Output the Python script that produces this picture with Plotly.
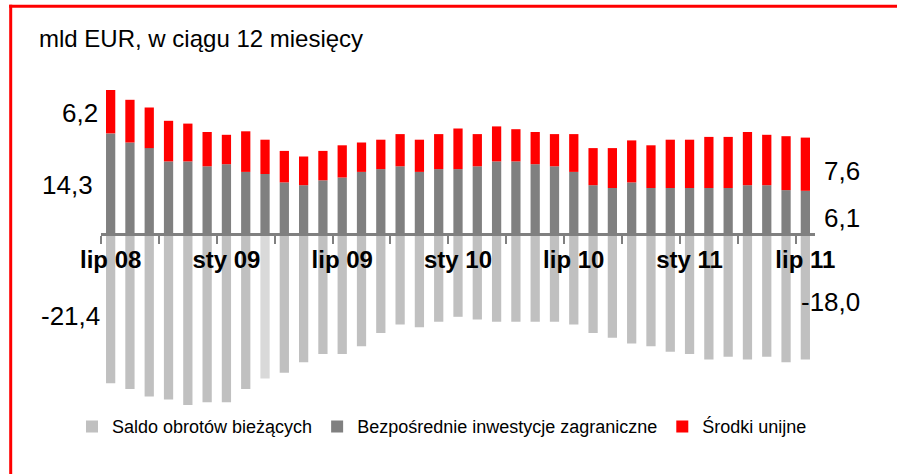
import plotly.graph_objects as go

months = ["lip 08", "sie 08", "wrz 08", "paź 08", "lis 08", "gru 08",
          "sty 09", "lut 09", "mar 09", "kwi 09", "maj 09", "cze 09",
          "lip 09", "sie 09", "wrz 09", "paź 09", "lis 09", "gru 09",
          "sty 10", "lut 10", "mar 10", "kwi 10", "maj 10", "cze 10",
          "lip 10", "sie 10", "wrz 10", "paź 10", "lis 10", "gru 10",
          "sty 11", "lut 11", "mar 11", "kwi 11", "maj 11", "cze 11",
          "lip 11"]

saldo = [-21.4, -22.2, -23.3, -23.7, -24.5, -24.1, -24.1, -22.2, -20.7, -19.9,
         -18.4, -17.2, -17.2, -16.1, -14.2, -13.0, -13.4, -12.6, -11.9, -12.3,
         -12.6, -12.6, -12.6, -12.6, -13.0, -14.2, -14.9, -15.7, -16.1, -16.9,
         -17.2, -18.0, -17.6, -18.0, -17.6, -18.4, -18.0]

bezp = [14.3, 13.0, 12.2, 10.3, 10.3, 9.6, 9.9, 8.8, 8.5, 7.3,
        6.9, 7.6, 8.0, 8.8, 9.2, 9.6, 8.8, 9.2, 9.2, 9.6,
        10.3, 10.3, 9.9, 9.6, 8.8, 6.9, 6.5, 7.3, 6.5, 6.5,
        6.5, 6.5, 6.5, 6.9, 6.9, 6.2, 6.1]

srodki = [6.2, 6.1, 5.8, 5.8, 5.4, 4.9, 4.2, 5.8, 4.9, 4.5,
          4.1, 4.2, 4.6, 4.2, 4.2, 4.6, 4.6, 5.0, 5.8, 4.6,
          5.0, 4.6, 4.6, 4.6, 5.4, 5.3, 5.7, 6.0, 6.1, 6.9,
          6.9, 7.3, 7.3, 7.6, 7.2, 7.7, 7.6]

tick_labels = ["lip 08", "sty 09", "lip 09", "sty 10", "lip 10", "sty 11", "lip 11"]
series_names = ["Saldo obrotów bieżących", "Bezpośrednie inwestycje zagraniczne", "Środki unijne"]
left_labels = ["6,2", "14,3", "-21,4"]
right_labels = ["7,6", "6,1", "-18,0"]
title_text = "mld EUR, w ciągu 12 miesięcy"

# ---- layout geometry (pixels) ----
W, H = 897, 474
L, R, T, B = 101, 82, 80, 64
PW, PH = W - L - R, H - T - B
ZERO_PX = 233.5
PX_PER_UNIT = 7.0
ymax = (ZERO_PX - T) / PX_PER_UNIT
ymin = -(H - B - ZERO_PX) / PX_PER_UNIT


def px(x):
    return (x - L) / PW


def py(y):
    return (H - B - y) / PH


x = list(range(len(months)))
FONT = "Liberation Sans, Arial, sans-serif"

saldo_colors = ["#c0c0c0"] * len(months)
saldo_colors[8] = "#d9d9d9"

fig = go.Figure()
fig.add_trace(go.Bar(x=x, y=saldo, name=series_names[0],
                     marker=dict(color=saldo_colors, line=dict(width=0))))
fig.add_trace(go.Bar(x=x, y=bezp, name=series_names[1],
                     marker=dict(color="#808080", line=dict(width=0))))
fig.add_trace(go.Bar(x=x, y=srodki, name=series_names[2],
                     marker=dict(color="#ff0000", line=dict(width=0))))

tickvals = [months.index(t) for t in tick_labels]
minor_vals = [-0.5 + 3 * k for k in range(13)]

annotations = [
    dict(text=title_text, x=px(37), y=py(38.5), xref="paper", yref="paper",
         xanchor="left", yanchor="middle", showarrow=False,
         font=dict(family=FONT, size=24, color="black")),
]
left_pos = [(100, 112.5), (95, 185), (102, 316)]
right_pos = [(862, 171), (862, 217.5), (862, 301.5)]
for t, (ax, ay) in zip(left_labels, left_pos):
    annotations.append(dict(text=t, x=px(ax), y=py(ay), xref="paper", yref="paper",
                            xanchor="right", yanchor="middle", showarrow=False,
                            font=dict(family=FONT, size=26, color="black")))
for t, (ax, ay) in zip(right_labels, right_pos):
    annotations.append(dict(text=t, x=px(ax), y=py(ay), xref="paper", yref="paper",
                            xanchor="right", yanchor="middle", showarrow=False,
                            font=dict(family=FONT, size=26, color="black")))

fig.update_layout(
    width=W, height=H,
    margin=dict(l=L, r=R, t=T, b=B, pad=0),
    paper_bgcolor="white", plot_bgcolor="white",
    barmode="relative", bargap=0.52,
    showlegend=True,
    legend=dict(orientation="h", x=px(72), y=py(426.7), xanchor="left", yanchor="middle",
                font=dict(family=FONT, size=18, color="black"),
                bgcolor="rgba(0,0,0,0)", traceorder="normal"),
    xaxis=dict(range=[-0.5, len(months) - 0.5], anchor="free",
               position=-ymin / (ymax - ymin),
               showline=True, linecolor="#808080", linewidth=3,
               showgrid=False, zeroline=False,
               tickmode="array", tickvals=tickvals, ticktext=tick_labels,
               ticks="", ticklabelstandoff=4,
               tickfont=dict(family=FONT, size=24, color="black", weight="bold"),
               minor=dict(tickmode="array", tickvals=minor_vals, ticks="outside",
                          ticklen=8, tickwidth=2, tickcolor="#808080", showgrid=False)),
    yaxis=dict(range=[ymin, ymax], visible=False, fixedrange=True),
    annotations=annotations,
    shapes=[
        dict(type="rect", xref="paper", yref="paper",
             x0=px(9.2), x1=px(897), y0=py(7.8), y1=py(4.8),
             fillcolor="#ff0000", line=dict(width=0), layer="below"),
        dict(type="rect", xref="paper", yref="paper",
             x0=px(9.2), x1=px(12.2), y0=py(474), y1=py(4.8),
             fillcolor="#ff0000", line=dict(width=0), layer="below"),
    ],
)

fig.write_html("out.html",
               config={"displayModeBar": False},
               post_script="document.body.style.margin='0';document.body.style.overflow='hidden';")
